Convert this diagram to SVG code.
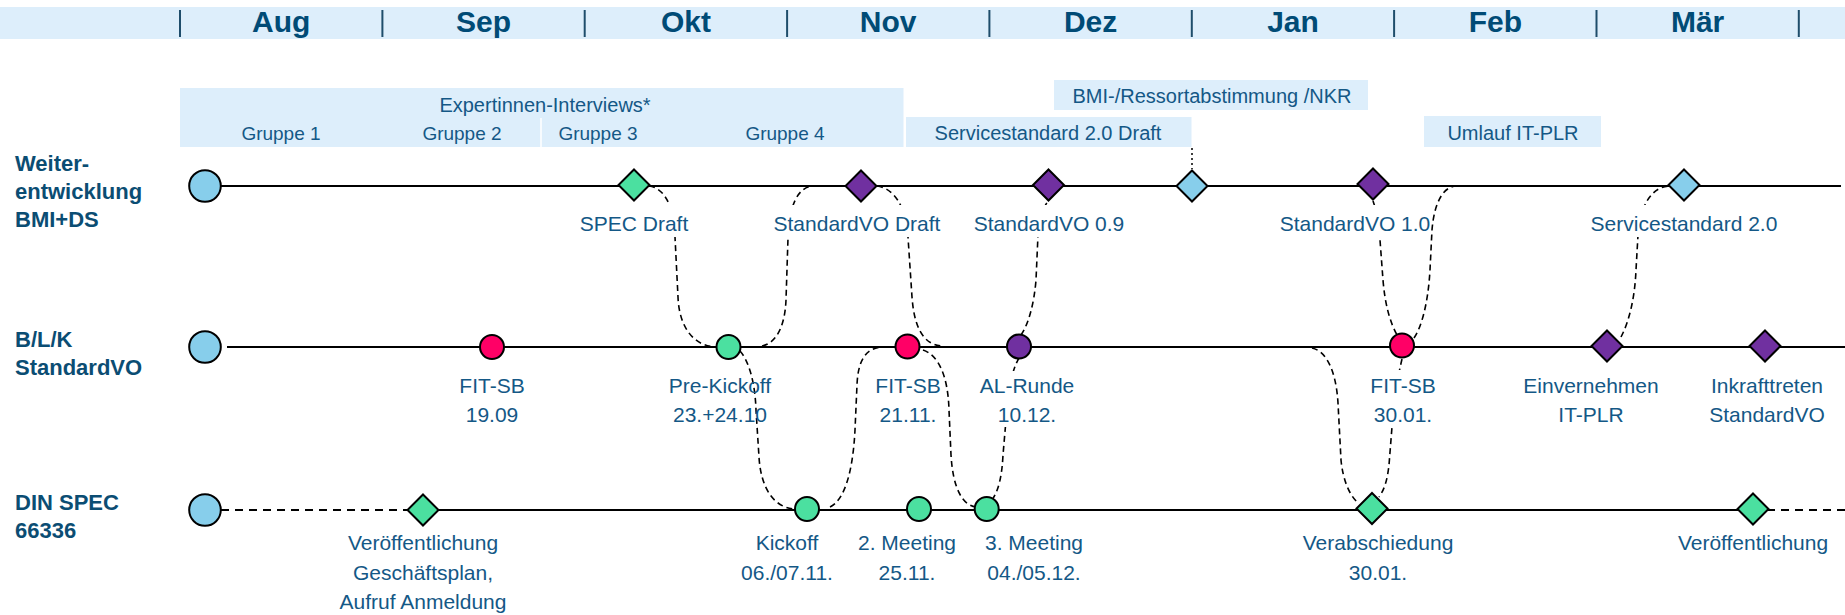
<svg xmlns="http://www.w3.org/2000/svg" width="1845" height="615" viewBox="0 0 1845 615">
<style>
text{font-family:"Liberation Sans",Arial,sans-serif}
.band{fill:#DDEEFB}
.month{font-weight:bold;font-size:30px;fill:#004B76;text-anchor:middle}
.sep{stroke:#1E4D6B;stroke-width:2}
.bl{font-size:20px;fill:#145886;text-anchor:middle}
.grp{font-size:19px;fill:#145886;text-anchor:middle}
.row{font-weight:bold;font-size:22px;fill:#0B4D73}
.lbl{font-size:21px;fill:#145886;text-anchor:middle}
.tl{stroke:#000;stroke-width:2;fill:none}
.tld{stroke:#000;stroke-width:2;fill:none;stroke-dasharray:8 6}
.con{fill:none;stroke:#000;stroke-width:1.6;stroke-dasharray:6 4}
.dot{fill:none;stroke:#000;stroke-width:1.5;stroke-dasharray:2 3}
.bg{fill:#fff}
.n{stroke:#000;stroke-width:2}
.lb{fill:#87CEEB}.gr{fill:#4BE0A0}.pu{fill:#7030A0}.rd{fill:#FF0066}
</style>
<defs>
<path id="dia" d="M0,-15.5 L15.5,0 L0,15.5 L-15.5,0Z"/>
</defs>

<g id="header">
<rect class="band" x="0" y="7" width="1845" height="32"/>
<line class="sep" x1="180" y1="10" x2="180" y2="37"/>
<line class="sep" x1="382.4" y1="10" x2="382.4" y2="37"/>
<line class="sep" x1="584.7" y1="10" x2="584.7" y2="37"/>
<line class="sep" x1="787.1" y1="10" x2="787.1" y2="37"/>
<line class="sep" x1="989.4" y1="10" x2="989.4" y2="37"/>
<line class="sep" x1="1191.8" y1="10" x2="1191.8" y2="37"/>
<line class="sep" x1="1394.1" y1="10" x2="1394.1" y2="37"/>
<line class="sep" x1="1596.5" y1="10" x2="1596.5" y2="37"/>
<line class="sep" x1="1798.8" y1="10" x2="1798.8" y2="37"/>
<text class="month" x="281.2" y="32">Aug</text>
<text class="month" x="483.5" y="32">Sep</text>
<text class="month" x="685.9" y="32">Okt</text>
<text class="month" x="888.2" y="32">Nov</text>
<text class="month" x="1090.6" y="32">Dez</text>
<text class="month" x="1293" y="32">Jan</text>
<text class="month" x="1495.3" y="32">Feb</text>
<text class="month" x="1697.6" y="32">Mär</text>
</g>

<g id="bands">
<rect class="band" x="180" y="88" width="723.5" height="59"/>
<line x1="541" y1="118" x2="541" y2="147" stroke="#fff" stroke-width="1.5"/>
<text class="bl" x="545" y="112">Expertinnen-Interviews*</text>
<text class="grp" x="281" y="140">Gruppe 1</text>
<text class="grp" x="462" y="140">Gruppe 2</text>
<text class="grp" x="598" y="140">Gruppe 3</text>
<text class="grp" x="785" y="140">Gruppe 4</text>
<rect class="band" x="906" y="117" width="285.5" height="30"/>
<text class="bl" x="1048" y="140">Servicestandard 2.0 Draft</text>
<rect class="band" x="1054" y="80" width="314" height="30"/>
<text class="bl" x="1212" y="103">BMI-/Ressortabstimmung /NKR</text>
<rect class="band" x="1424" y="116" width="177" height="31"/>
<text class="bl" x="1513" y="140">Umlauf IT-PLR</text>
<line class="dot" x1="1192" y1="148" x2="1192" y2="169"/>
</g>

<g id="row-labels">
<text class="row" x="15" y="171">Weiter-</text>
<text class="row" x="15" y="199">entwicklung</text>
<text class="row" x="15" y="227">BMI+DS</text>
<text class="row" x="15" y="347">B/L/K</text>
<text class="row" x="15" y="375">StandardVO</text>
<text class="row" x="15" y="510">DIN SPEC</text>
<text class="row" x="15" y="538">66336</text>
</g>

<g id="timelines">
<line class="tl" x1="205" y1="186" x2="1841" y2="186"/>
<line class="tl" x1="227" y1="347" x2="1845" y2="347"/>
<line class="tld" x1="221" y1="510" x2="423" y2="510"/>
<line class="tl" x1="423" y1="510" x2="1753" y2="510"/>
<line class="tld" x1="1753" y1="510" x2="1845" y2="510"/>
</g>

<g id="connectors">
<path class="con" d="M649,186 C664,188 674,205 675,237 L678,297 C679,325 692,346 716,347"/>
<path class="con" d="M762,346 C777,343 785,325 786,300 L788,238 C789,205 798,187 813,186"/>
<path class="con" d="M740,351 C748,360 755,380 756,410 L759,457 C761,490 775,508 795,509"/>
<path class="con" d="M830,507 C845,500 853,470 855,430 L857,385 C858,360 866,348 882,347"/>
<path class="con" d="M877,186 C893,188 906,205 908,237 L912,297 C914,325 922,344 941,346"/>
<path class="con" d="M923,350 C938,355 948,375 949,410 L951,455 C953,488 962,505 976,507"/>
<path class="con" d="M992,500 C999,490 1002,475 1003,455 L1006,420 C1008,390 1012,370 1019,358"/>
<path class="con" d="M1021,335 C1028,325 1034,305 1036,280 L1038,235 C1039,220 1043,208 1048,201"/>
<path class="con" d="M1373,201 C1377,212 1379,225 1380,240 L1383,280 C1385,305 1390,322 1397,335"/>
<path class="con" d="M1414,338 C1421,328 1428,305 1430,270 L1432,230 C1434,205 1442,187 1456,186"/>
<path class="con" d="M1312,348 C1326,351 1336,370 1338,403 L1341,460 C1343,480 1349,494 1357,502"/>
<path class="con" d="M1402,359 C1397,380 1393,405 1392,427 L1389,465 C1387,482 1384,490 1379,497"/>
<path class="con" d="M1621,337 C1630,320 1635,295 1636,270 L1638,235 C1640,205 1652,187 1669,186"/>
</g>

<g id="start-weiterentwicklung"><circle class="n lb" cx="205" cy="186" r="15.8"/></g>
<g id="spec-draft"><use href="#dia" class="n gr" x="634" y="185"/><rect class="bg" x="578" y="205" width="112" height="32"/><text class="lbl" x="634" y="231">SPEC Draft</text></g>
<g id="standardvo-draft"><use href="#dia" class="n pu" x="861" y="186"/><rect class="bg" x="767" y="205" width="180" height="32"/><text class="lbl" x="857" y="231">StandardVO Draft</text></g>
<g id="standardvo-09"><use href="#dia" class="n pu" x="1048.5" y="185"/><rect class="bg" x="971" y="205" width="156" height="32"/><text class="lbl" x="1049" y="231">StandardVO 0.9</text></g>
<g id="ressort-milestone"><use href="#dia" class="n lb" x="1192" y="186"/></g>
<g id="standardvo-10"><use href="#dia" class="n pu" x="1373" y="184"/><rect class="bg" x="1279" y="205" width="150" height="32"/><text class="lbl" x="1355" y="231">StandardVO 1.0</text></g>
<g id="servicestandard-20"><use href="#dia" class="n lb" x="1684" y="185"/><rect class="bg" x="1588" y="205" width="192" height="32"/><text class="lbl" x="1684" y="231">Servicestandard 2.0</text></g>

<g id="start-blk"><circle class="n lb" cx="205" cy="347" r="15.8"/></g>
<g id="fit-sb-1909"><circle class="n rd" cx="492" cy="347" r="12"/><text class="lbl" x="492" y="393">FIT-SB</text><text class="lbl" x="492" y="422">19.09</text></g>
<g id="pre-kickoff"><circle class="n gr" cx="728.5" cy="347" r="12"/><text class="lbl" x="720" y="393">Pre-Kickoff</text><text class="lbl" x="720" y="422">23.+24.10</text></g>
<g id="fit-sb-2111"><circle class="n rd" cx="907.5" cy="346.5" r="12"/><text class="lbl" x="908" y="393">FIT-SB</text><text class="lbl" x="908" y="422">21.11.</text></g>
<g id="al-runde"><circle class="n pu" cx="1019" cy="346.5" r="12"/><rect class="bg" x="978" y="371" width="100" height="56"/><text class="lbl" x="1027" y="393">AL-Runde</text><text class="lbl" x="1027" y="422">10.12.</text></g>
<g id="fit-sb-3001"><circle class="n rd" cx="1402" cy="345.5" r="12"/><rect class="bg" x="1367" y="370" width="72" height="56"/><text class="lbl" x="1403" y="393">FIT-SB</text><text class="lbl" x="1403" y="422">30.01.</text></g>
<g id="einvernehmen"><use href="#dia" class="n pu" x="1607" y="346"/><text class="lbl" x="1591" y="393">Einvernehmen</text><text class="lbl" x="1591" y="422">IT-PLR</text></g>
<g id="inkrafttreten"><use href="#dia" class="n pu" x="1765" y="346"/><text class="lbl" x="1767" y="393">Inkrafttreten</text><text class="lbl" x="1767" y="422">StandardVO</text></g>

<g id="start-din"><circle class="n lb" cx="205" cy="510" r="15.8"/></g>
<g id="veroeffentlichung-geschaeftsplan"><use href="#dia" class="n gr" x="423" y="510"/><text class="lbl" x="423" y="550">Veröffentlichung</text><text class="lbl" x="423" y="579.5">Geschäftsplan,</text><text class="lbl" x="423" y="609">Aufruf Anmeldung</text></g>
<g id="kickoff"><circle class="n gr" cx="807" cy="509" r="12"/><text class="lbl" x="787" y="550">Kickoff</text><text class="lbl" x="787" y="579.5">06./07.11.</text></g>
<g id="meeting-2"><circle class="n gr" cx="919" cy="509" r="12"/><text class="lbl" x="907" y="550">2. Meeting</text><text class="lbl" x="907" y="579.5">25.11.</text></g>
<g id="meeting-3"><circle class="n gr" cx="986.7" cy="509" r="12"/><text class="lbl" x="1034" y="550">3. Meeting</text><text class="lbl" x="1034" y="579.5">04./05.12.</text></g>
<g id="verabschiedung"><use href="#dia" class="n gr" x="1372" y="508.5"/><text class="lbl" x="1378" y="550">Verabschiedung</text><text class="lbl" x="1378" y="579.5">30.01.</text></g>
<g id="veroeffentlichung"><use href="#dia" class="n gr" x="1753" y="509"/><text class="lbl" x="1753" y="550">Veröffentlichung</text></g>
</svg>
